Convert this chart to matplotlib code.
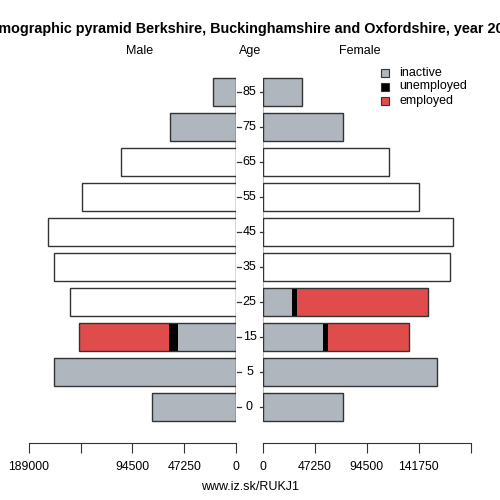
import matplotlib
matplotlib.use('Agg')
import matplotlib.pyplot as plt
from matplotlib.patches import Rectangle

plt.rcParams['font.family'] = ['Liberation Sans', 'DejaVu Sans']

# age groups, bottom to top
ages = ['0', '5', '15', '25', '35', '45', '55', '65', '75', '85']

# male values
male_inactive = [76600, 165700, 52900, 0, 0, 0, 0, 0, 59900, 21300]
male_unemployed = [0, 0, 8200, 0, 0, 0, 0, 0, 0, 0]
male_employed = [0, 0, 81800, 0, 0, 0, 0, 0, 0, 0]
male_total_only = [0, 0, 0, 151400, 166300, 171200, 140100, 105200, 0, 0]

# female values
female_inactive = [73000, 158700, 54200, 26200, 0, 0, 0, 0, 73000, 35600]
female_unemployed = [0, 0, 5100, 4900, 0, 0, 0, 0, 0, 0]
female_employed = [0, 0, 73600, 119400, 0, 0, 0, 0, 0, 0]
female_total_only = [0, 0, 0, 0, 170600, 172700, 142300, 114900, 0, 0]

left_ticks = [189000, 141750, 94500, 47250, 0]
left_labels = ['189000', '', '94500', '47250', '0']
right_ticks = [0, 47250, 94500, 141750, 189000]
right_labels = ['0', '47250', '94500', '141750', '']

c_inactive = '#b0b6bd'
c_unemployed = '#000000'
c_employed = '#e04c4c'
edge = '#333333'

W = H = 500.0
fig = plt.figure(figsize=(5, 5), dpi=100)

bottom_px = 442.7
top_px = 71
ax_b = 1 - bottom_px / H
ax_h = (bottom_px - top_px) / H
axL = fig.add_axes([20 / W, ax_b, (236 - 20) / W, ax_h])
axR = fig.add_axes([263.3 / W, ax_b, (480 - 263.3) / W, ax_h])

y = list(range(len(ages)))
bh = 0.79


def draw_side(ax, inact, unemp, emp, total_only):
    ax.vlines(0, -0.4, 9.4, color='#aaaaaa', lw=1.2, zorder=1)
    left2 = [a + b for a, b in zip(inact, unemp)]
    ax.barh(y, inact, height=bh, color=c_inactive, edgecolor='none', zorder=2)
    ax.barh(y, unemp, left=inact, height=bh, color=c_unemployed, edgecolor='none', zorder=2)
    ax.barh(y, emp, left=left2, height=bh, color=c_employed, edgecolor='none', zorder=2)
    totals = [a + b + c for a, b, c in zip(inact, unemp, emp)]
    for yi, t in zip(y, totals):
        if t > 0:
            ax.barh(yi, t, height=bh, color='none', edgecolor=edge, lw=1.0, zorder=3)
    for yi, t in zip(y, total_only):
        if t > 0:
            ax.barh(yi, t, height=bh, color='white', edgecolor=edge, lw=1.0, zorder=3)
    ax.set_ylim(-1.02, 9.6)
    ax.set_yticks([])
    for s in ['top', 'left', 'right']:
        ax.spines[s].set_visible(False)
    ax.spines['bottom'].set_bounds(0, 189000)
    ax.spines['bottom'].set_color('#333333')
    ax.tick_params(axis='x', length=7, color='#333333', labelsize=8.8, pad=6)


draw_side(axL, male_inactive, male_unemployed, male_employed, male_total_only)
axL.set_xlim(197000, 0)
axL.set_xticks(left_ticks)
axL.set_xticklabels(left_labels)

draw_side(axR, female_inactive, female_unemployed, female_employed, female_total_only)
axR.set_xlim(0, 197600)
axR.set_xticks(right_ticks)
axR.set_xticklabels(right_labels)

# age labels between the panels with small ticks
for yi, a in zip(y, ages):
    yp = 1 - (407 - 35 * yi) / H
    fig.text(249.5 / W, yp, a, ha='center', va='center', fontsize=9)
    fig.add_artist(plt.Line2D([237 / W, 240.5 / W], [yp, yp], color='#333333', lw=0.9))
    fig.add_artist(plt.Line2D([259.5 / W, 263 / W], [yp, yp], color='#333333', lw=0.9))

fig.text(0.5, 1 - 29.5 / H,
         'Demographic pyramid Berkshire, Buckinghamshire and Oxfordshire, year 2019',
         ha='center', va='center', fontsize=10.4, fontweight='bold')
fig.text(139.5 / W, 1 - 51 / H, 'Male', ha='center', va='center', fontsize=9)
fig.text(250 / W, 1 - 51 / H, 'Age', ha='center', va='center', fontsize=9)
fig.text(360 / W, 1 - 51 / H, 'Female', ha='center', va='center', fontsize=9)
fig.text(250 / W, 1 - 486.5 / H, 'www.iz.sk/RUKJ1', ha='center', va='center', fontsize=9)

# legend
leg = [('inactive', c_inactive), ('unemployed', c_unemployed), ('employed', c_employed)]
for i, (lab, col) in enumerate(leg):
    yc = 72.5 + 14 * i
    fig.add_artist(Rectangle((380.5 / W, 1 - (yc + 4) / H), 8 / W, 8 / H,
                             facecolor=col, edgecolor='#333333', lw=0.8))
    fig.text(399 / W, 1 - yc / H, lab, ha='left', va='center', fontsize=9)

fig.savefig('out.png', dpi=100)
